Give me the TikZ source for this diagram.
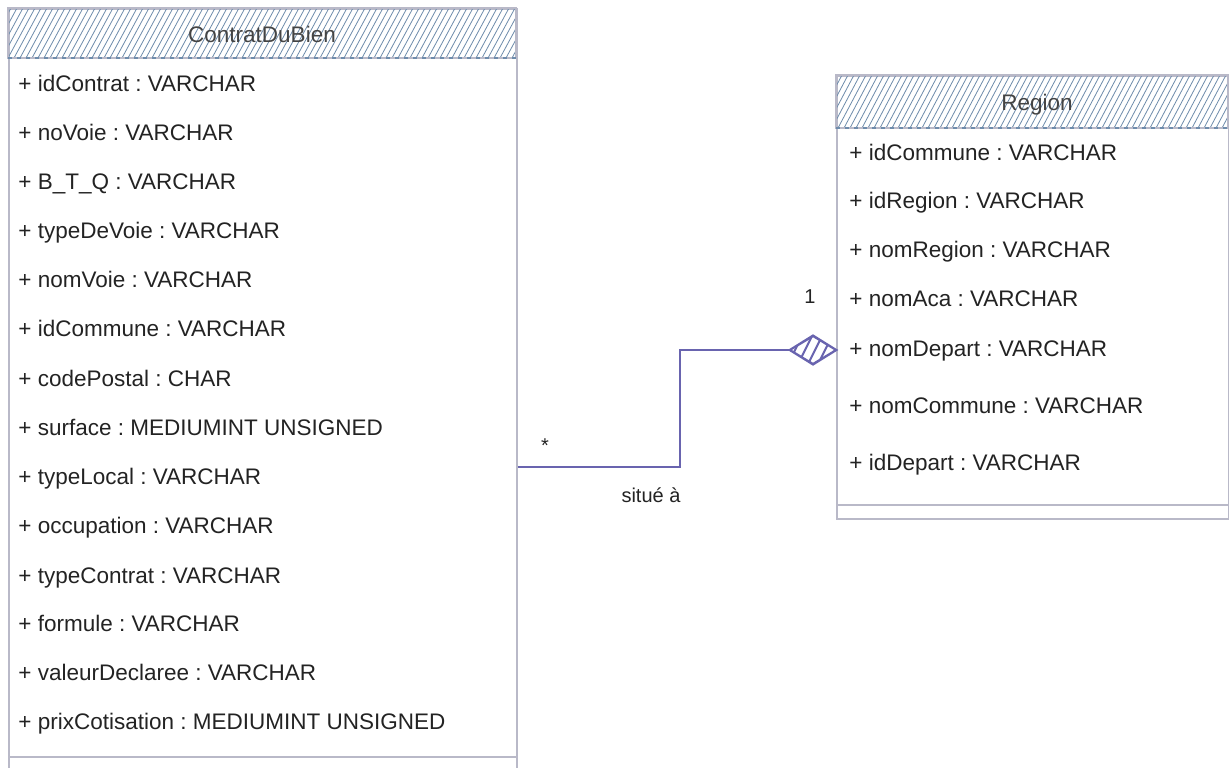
\documentclass[tikz,border=0pt]{standalone}
\usepackage{fontspec}
\setmainfont{Liberation Sans}
\usetikzlibrary{shapes.geometric}
\definecolor{boxline}{RGB}{185,185,200}
\definecolor{hatchc}{RGB}{110,140,172}
\definecolor{connc}{RGB}{105,100,175}
\definecolor{txt}{RGB}{35,35,35}
\frenchspacing
\begin{document}
\begin{tikzpicture}[x=0.5pt,y=-0.5pt,
  classbox/.style={draw=boxline, line width=0.8pt, fill=white, inner sep=0pt, anchor=north west},
  hatchline/.style={draw=hatchc, line width=0.4pt},
  attr/.style={anchor=west, inner sep=0pt, text height=8.1pt, text depth=0pt, text=txt, font=\fontsize{11.25}{13}\selectfont},
  titletext/.style={inner sep=0pt, text height=8.1pt, text depth=0pt, text=txt!85, font=\fontsize{11.25}{13}\selectfont},
  lbl/.style={inner sep=0pt, text=txt, font=\fontsize{10}{12}\selectfont},
  connector/.style={draw=connc, line width=0.9pt},
  aggdiamond/.style={diamond, draw=connc, line width=0.8pt, fill=white, inner sep=0pt, minimum width=23pt, minimum height=14pt}]
\useasboundingbox (0,0) rectangle (1229,767);
\fill[white] (0,0) rectangle (1229,767);

% ---------- ContratDuBien ----------
\node[classbox, minimum width=254pt, minimum height=381pt] (cdb) at (8,8) {};
\begin{scope}
  \clip (8,8) rectangle (516,58);
  \foreach \x in {-40,-34,...,530} \draw[hatchline] (\x,58) -- ++(27,-50);
\end{scope}
\draw[boxline, line width=0.8pt] (8,8) rectangle (516,58);
\draw[hatchc, line width=0.6pt, dash pattern=on 2pt off 2.5pt] (8,58) -- (516,58);
\node[titletext] (cdbt) at (262,34) {ContratDuBien};
\draw[boxline, line width=0.8pt] (8,757) -- (516,757);

\node[attr] (c1) at (18,83) {+ idContrat : VARCHAR};
\node[attr] (c2) at (18,132) {+ noVoie : VARCHAR};
\node[attr] (c3) at (18,181) {+ B\_T\_Q : VARCHAR};
\node[attr] (c4) at (18,230) {+ typeDeVoie : VARCHAR};
\node[attr] (c5) at (18,279) {+ nomVoie : VARCHAR};
\node[attr] (c6) at (18,328) {+ idCommune : VARCHAR};
\node[attr] (c7) at (18,378) {+ codePostal : CHAR};
\node[attr] (c8) at (18,427) {+ surface : MEDIUMINT UNSIGNED};
\node[attr] (c9) at (18,476) {+ typeLocal : VARCHAR};
\node[attr] (c10) at (18,525) {+ occupation : VARCHAR};
\node[attr] (c11) at (18,575) {+ typeContrat : VARCHAR};
\node[attr] (c12) at (18,623) {+ formule : VARCHAR};
\node[attr] (c13) at (18,672) {+ valeurDeclaree : VARCHAR};
\node[attr] (c14) at (18,721) {+ prixCotisation : MEDIUMINT UNSIGNED};

% ---------- Region ----------
\node[classbox, minimum width=196pt, minimum height=221.5pt] (reg) at (836,75) {};
\begin{scope}
  \clip (836,75) rectangle (1228,128);
  \foreach \x in {796,802,...,1240} \draw[hatchline] (\x,128) -- ++(28,-53);
\end{scope}
\draw[boxline, line width=0.8pt] (836,75) rectangle (1228,128);
\draw[hatchc, line width=0.6pt, dash pattern=on 2pt off 2.5pt] (836,128) -- (1228,128);
\node[titletext] (regt) at (1037,102) {Region};
\draw[boxline, line width=0.8pt] (836,505) -- (1228,505);

\node[attr] (r1) at (849,152) {+ idCommune : VARCHAR};
\node[attr] (r2) at (849,200) {+ idRegion : VARCHAR};
\node[attr] (r3) at (849,249) {+ nomRegion : VARCHAR};
\node[attr] (r4) at (849,298) {+ nomAca : VARCHAR};
\node[attr] (r5) at (849,348) {+ nomDepart : VARCHAR};
\node[attr] (r6) at (849,405) {+ nomCommune : VARCHAR};
\node[attr] (r7) at (849,462) {+ idDepart : VARCHAR};

% ---------- Association ----------
\node[aggdiamond] (agg) at (813,350) {};
\begin{scope}
  \clip (agg.east) -- (agg.north) -- (agg.west) -- (agg.south) -- cycle;
  \foreach \x in {788,798,...,840} \draw[connc, line width=1pt] (\x,364) -- ++(14,-28);
\end{scope}
\draw[connc, line width=0.8pt] (agg.east) -- (agg.north) -- (agg.west) -- (agg.south) -- cycle;
\draw[connector] ([yshift=-38.5pt]cdb.east) -- ++(162,0) |- (agg.west);
\node[lbl] (star) at (545,446) {*};
\node[lbl] (situe) at (651,495) {situé à};
\node[lbl] (one) at (810,297) {1};
\end{tikzpicture}
\end{document}
